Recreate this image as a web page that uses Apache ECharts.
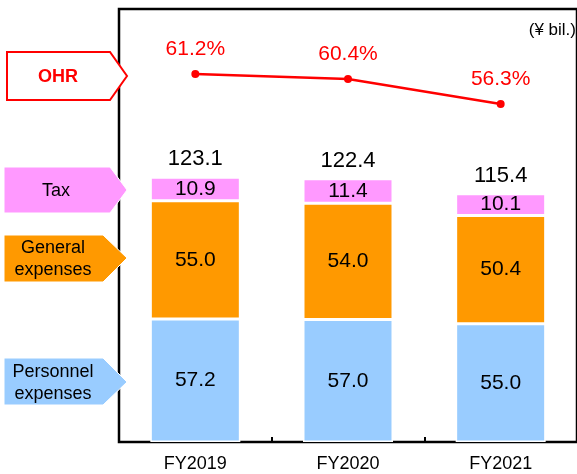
<!DOCTYPE html>
<html><head><meta charset="utf-8">
<script src="https://cdn.jsdelivr.net/npm/echarts@6/dist/echarts.min.js"></script>
<style>html,body{margin:0;padding:0;background:#fff}#c{width:577px;height:474px}</style>
</head><body><div id="c"></div>
<script>
const categories = ['FY2019', 'FY2020', 'FY2021'];
const personnel = [57.2, 57.0, 55.0];
const general = [55.0, 54.0, 50.4];
const tax = [10.9, 11.4, 10.1];
const totals = [123.1, 122.4, 115.4];
const ohr = [61.2, 60.4, 56.3];

const FONT = 'Liberation Sans, Arial, sans-serif';
const chart = echarts.init(document.getElementById('c'), null, {renderer: 'canvas'});
const fmt1 = p => p.value.toFixed(1);
const barLabel = {show: true, position: 'inside', color: '#000', fontSize: 21, fontFamily: FONT, formatter: fmt1};
const barItem = c => ({color: c, borderColor: '#fff', borderWidth: 1.5});

chart.setOption({
  animation: false,
  grid: {left: 119, right: -4, top: 9, bottom: 32, show: true, borderColor: '#000', borderWidth: 2.5, backgroundColor: 'transparent', containLabel: false},
  xAxis: {
    type: 'category', data: categories,
    axisLine: {show: false},
    axisTick: {show: true, inside: true, length: 5, lineStyle: {color: '#000', width: 2}},
    axisLabel: {color: '#000', fontSize: 18, fontFamily: FONT, margin: 13}
  },
  yAxis: [
    {type: 'value', min: 0, max: 201.4, show: false, splitLine: {show: false}},
    {type: 'value', min: 1.07, max: 71.82, show: false, splitLine: {show: false}}
  ],
  series: [
    {name: 'Personnel expenses', type: 'bar', stack: 's', barWidth: 90, data: personnel, itemStyle: barItem('#99CCFF'), label: barLabel},
    {name: 'General expenses', type: 'bar', stack: 's', data: general, itemStyle: barItem('#FF9900'), label: barLabel},
    {name: 'Tax', type: 'bar', stack: 's', data: tax, itemStyle: barItem('#FF99FF'), label: barLabel},
    {name: 'Total', type: 'line', data: totals, symbol: 'circle', symbolSize: 2, showSymbol: true,
     itemStyle: {color: 'rgba(0,0,0,0)', borderWidth: 0}, lineStyle: {width: 0, color: 'rgba(0,0,0,0)'}, z: 5,
     label: {show: true, position: 'top', distance: 6, color: '#000', fontSize: 22, fontFamily: FONT, formatter: fmt1}},
    {name: 'OHR', type: 'line', yAxisIndex: 1, data: ohr, symbol: 'circle', symbolSize: 8,
     itemStyle: {color: '#FF0000'}, lineStyle: {color: '#FF0000', width: 2.5},
     label: {show: true, position: 'top', distance: 10, color: '#FF0000', fontSize: 21, fontFamily: FONT, formatter: p => p.value.toFixed(1) + '%'}}
  ],
  graphic: [
    {type: 'polygon', z: 100, shape: {points: [[7,52],[110,52],[127,76],[110,100],[7,100]]}, style: {fill: '#fff', stroke: '#FF0000', lineWidth: 2}},
    {type: 'text', z: 101, x: 58, y: 77, style: {text: 'OHR', fill: '#FF0000', font: 'bold 18px ' + FONT, align: 'center', verticalAlign: 'middle'}},
    {type: 'polygon', z: 100, shape: {points: [[4,167],[110,167],[127,190],[110,213],[4,213]]}, style: {fill: '#FF99FF', stroke: '#fff', lineWidth: 1}},
    {type: 'text', z: 101, x: 56, y: 191, style: {text: 'Tax', fill: '#000', font: '18px ' + FONT, align: 'center', verticalAlign: 'middle'}},
    {type: 'polygon', z: 100, shape: {points: [[4,235],[103,235],[127,258],[103,282],[4,282]]}, style: {fill: '#FF9900', stroke: '#fff', lineWidth: 1}},
    {type: 'text', z: 101, x: 53, y: 259, style: {text: 'General\nexpenses', fill: '#000', font: '18px ' + FONT, lineHeight: 22, align: 'center', verticalAlign: 'middle'}},
    {type: 'polygon', z: 100, shape: {points: [[4,358],[103,358],[127,382],[103,405],[4,405]]}, style: {fill: '#99CCFF', stroke: '#fff', lineWidth: 1}},
    {type: 'text', z: 101, x: 53, y: 383, style: {text: 'Personnel\nexpenses', fill: '#000', font: '18px ' + FONT, lineHeight: 22, align: 'center', verticalAlign: 'middle'}},
    {type: 'text', z: 101, x: 576, y: 30, style: {text: '(¥ bil.)', fill: '#000', font: '17px ' + FONT, align: 'right', verticalAlign: 'middle'}}
  ]
});
</script></body></html>
